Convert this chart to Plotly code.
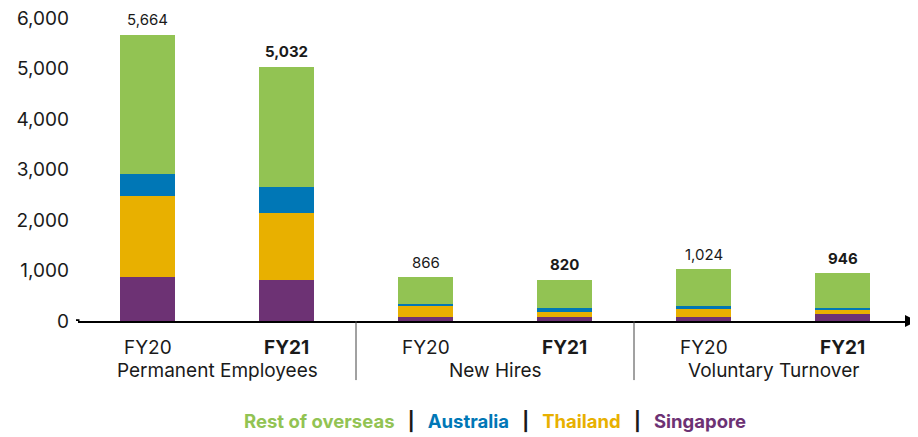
import plotly.graph_objects as go

categories = ["PE FY20", "PE FY21", "NH FY20", "NH FY21", "VT FY20", "VT FY21"]
year_labels = ["FY20", "<b>FY21</b>", "FY20", "<b>FY21</b>", "FY20", "<b>FY21</b>"]
groups = ["Permanent Employees", "New Hires", "Voluntary Turnover"]

singapore = [876, 820, 80, 80, 80, 140]
thailand = [1590, 1319, 220, 100, 160, 80]
australia = [451, 511, 40, 80, 60, 40]
rest_overseas = [2747, 2382, 526, 560, 724, 686]
totals = [5664, 5032, 866, 820, 1024, 946]
total_labels = ["5,664", "<b>5,032</b>", "866", "<b>820</b>", "1,024", "<b>946</b>"]

C_REST = "#92C353"
C_AUS = "#0077B6"
C_THA = "#E8B000"
C_SIN = "#6D3274"
FONT = "Inter, Liberation Sans, Arial, sans-serif"

fig = go.Figure()
for name, vals, col in [("Singapore", singapore, C_SIN), ("Thailand", thailand, C_THA),
                        ("Australia", australia, C_AUS), ("Rest of overseas", rest_overseas, C_REST)]:
    fig.add_trace(go.Bar(x=categories, y=vals, name=name, marker=dict(color=col, line=dict(width=0)),
                         hoverinfo="skip"))

annotations = []
for c, t, lab in zip(categories, totals, total_labels):
    annotations.append(dict(x=c, y=t, xref="x", yref="y", text=lab, showarrow=False,
                            yanchor="middle", yshift=15,
                            font=dict(family=FONT, size=15, color="#1a1a1a")))
for c, lab in zip(categories, year_labels):
    annotations.append(dict(x=c, y=-0.088, xref="x", yref="paper", text=lab, showarrow=False,
                            yanchor="middle", font=dict(family=FONT, size=19, color="#1a1a1a")))
for i, g in enumerate(groups):
    annotations.append(dict(x=2 * i + 0.5, y=-0.162, xref="x", yref="paper", text=g, showarrow=False,
                            yanchor="middle", font=dict(family=FONT, size=19, color="#1a1a1a")))

sep = "&nbsp;&nbsp;&nbsp;<span style='color:#1a1a1a'>|</span>&nbsp;&nbsp;&nbsp;"
legend_text = (f"<b><span style='color:{C_REST}'>Rest of overseas</span>{sep}"
               f"<span style='color:{C_AUS}'>Australia</span>{sep}"
               f"<span style='color:{C_THA}'>Thailand</span>{sep}"
               f"<span style='color:{C_SIN}'>Singapore</span></b>")
annotations.append(dict(x=0.5, y=-0.333, xref="paper", yref="paper", text=legend_text, showarrow=False,
                        yanchor="middle", xanchor="center", font=dict(family=FONT, size=18.5)))

# axis arrow
annotations.append(dict(x=1.007, y=0, xref="paper", yref="paper", ax=-14, ay=0, axref="pixel",
                        ayref="pixel", text="", showarrow=True, arrowhead=2, arrowsize=1.6,
                        arrowwidth=1.5, arrowcolor="#000000"))

shapes = []
for xd in [1.5, 3.5]:
    shapes.append(dict(type="line", xref="x", yref="paper", x0=xd, x1=xd, y0=0, y1=-0.195,
                       line=dict(color="#444444", width=1)))
# small square at the start of the axis line
shapes.append(dict(type="rect", xref="paper", yref="y", xsizemode="pixel", ysizemode="pixel",
                   xanchor=0, yanchor=0, x0=-2, x1=1.5, y0=-1.8, y1=1.8,
                   fillcolor="#000000", line=dict(width=0)))

# page body adds an 8px offset; margins compensate so the plot area sits where the reference has it
fig.update_layout(
    barmode="stack",
    bargap=0.61,
    width=910, height=429,
    margin=dict(l=70, r=6, t=10, b=116, autoexpand=False),
    paper_bgcolor="white", plot_bgcolor="white",
    showlegend=False,
    annotations=annotations,
    shapes=shapes,
    xaxis=dict(type="category", categoryorder="array", categoryarray=categories,
               range=[-0.5, 5.5], showticklabels=False, showline=True, linecolor="#000000",
               linewidth=1.5, showgrid=False, zeroline=False, ticks="", fixedrange=True,
               automargin=False),
    yaxis=dict(range=[0, 6000], tickvals=[0, 1000, 2000, 3000, 4000, 5000, 6000], tickformat=",",
               showgrid=False, zeroline=False, showline=False, ticks="", ticklabelstandoff=8,
               ticklabeloverflow="allow", automargin=False,
               tickfont=dict(family=FONT, size=19, color="#1a1a1a"), fixedrange=True),
)

fig.write_html("out.html")
